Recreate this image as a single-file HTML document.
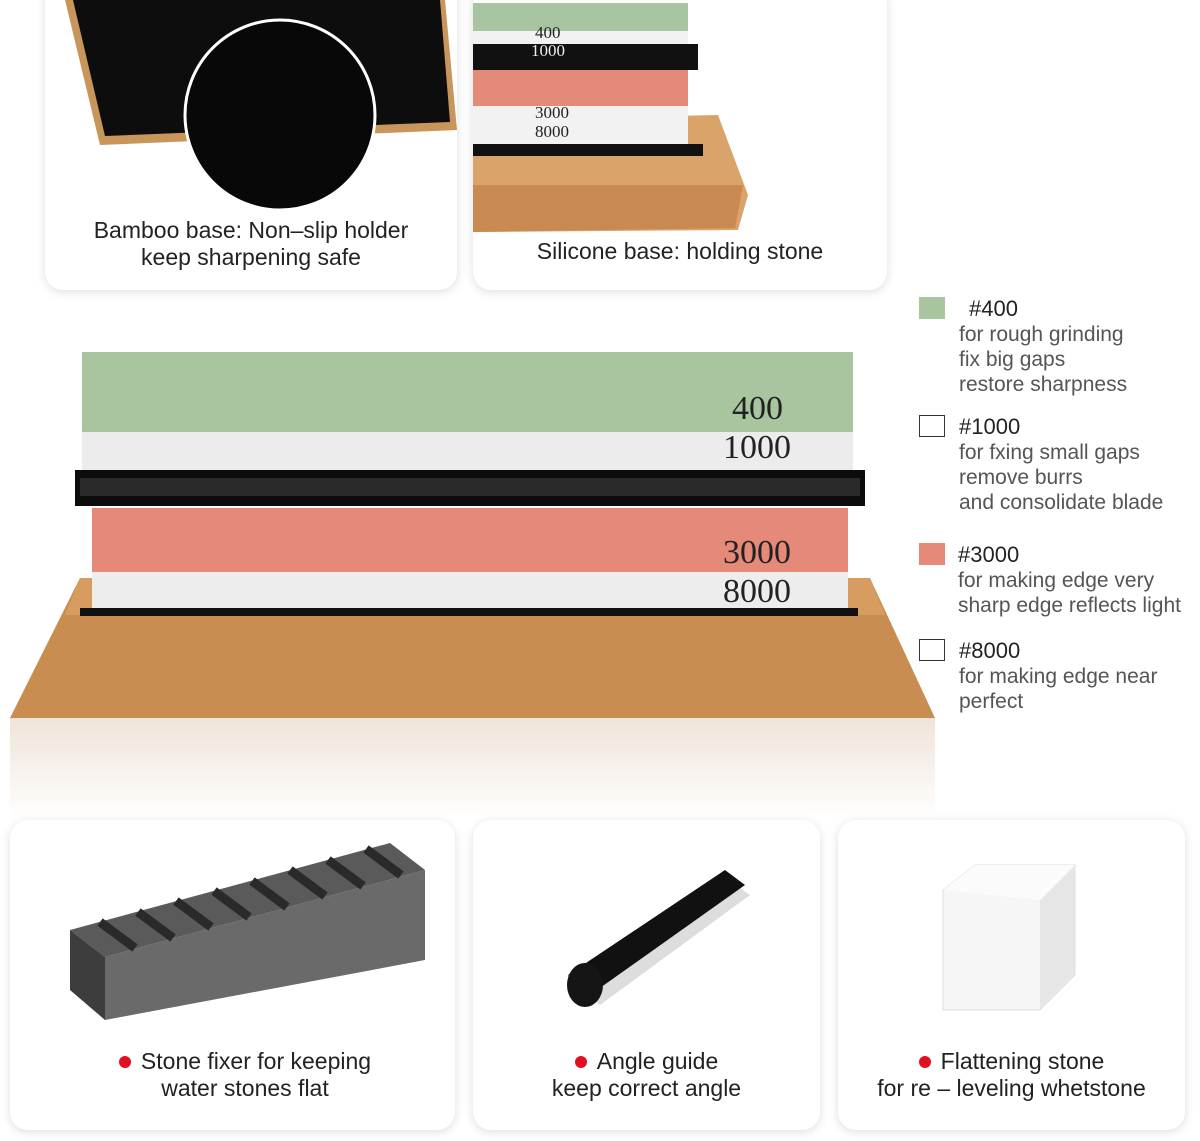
<!DOCTYPE html>
<html><head><meta charset="utf-8"><style>
*{margin:0;padding:0;box-sizing:border-box}
body{width:1200px;height:1141px;background:#fff;position:relative;overflow:hidden;font-family:"Liberation Sans",sans-serif;color:#222}
.card{position:absolute;background:#fff;border-radius:18px;box-shadow:0 2px 10px rgba(0,0,0,0.13)}
.t{position:absolute;text-align:center;font-size:23px;line-height:27px;color:#222}
.leg{position:absolute;font-size:21px;line-height:25px;color:#555}
.leg b{font-weight:normal;color:#222;font-size:22px}
.sq{position:absolute;width:26px;height:22px;border:1.5px solid #333}
.dot{display:inline-block;width:12px;height:12px;border-radius:50%;background:#e01020;margin-right:10px;vertical-align:1px}
.num{position:absolute;font-family:"Liberation Serif",serif;font-size:34px;color:#222}
</style></head><body>

<div class="card" style="left:45px;top:-20px;width:412px;height:310px"></div>
<svg style="position:absolute;left:45px;top:0" width="412" height="210">
<polygon points="20,0 400,0 412,130 55,145" fill="#c8955a"/>
<polygon points="28,0 395,0 405,122 60,136" fill="#0d0d0d"/>
<circle cx="235" cy="115" r="95" fill="#080808" stroke="#fff" stroke-width="3"/>
</svg>
<div class="t" style="left:45px;top:217px;width:412px">Bamboo base: Non–slip holder<br>keep sharpening safe</div>

<div class="card" style="left:473px;top:-20px;width:414px;height:310px"></div>
<svg style="position:absolute;left:473px;top:0" width="300" height="240">
<polygon points="0,120 245,115 275,195 265,230 0,232" fill="#d9a36a"/>
<polygon points="0,185 270,185 262,228 0,232" fill="#c88a50"/>
<rect x="0" y="3" width="215" height="28" fill="#a8c4a0"/>
<rect x="0" y="31" width="215" height="13" fill="#f2f2f2"/>
<rect x="0" y="44" width="225" height="26" fill="#111"/>
<rect x="0" y="70" width="215" height="36" fill="#e58a78"/>
<rect x="0" y="106" width="215" height="38" fill="#f2f2f2"/>
<rect x="0" y="144" width="230" height="12" fill="#111"/>
<text x="62" y="38" font-family="Liberation Serif" font-size="17" fill="#222">400</text>
<text x="58" y="56" font-family="Liberation Serif" font-size="17" fill="#eee">1000</text>
<text x="62" y="118" font-family="Liberation Serif" font-size="17" fill="#222">3000</text>
<text x="62" y="137" font-family="Liberation Serif" font-size="17" fill="#222">8000</text>
</svg>
<div class="t" style="left:473px;top:238px;width:414px">Silicone base: holding stone</div>

<div class="sq" style="left:919px;top:297px;background:#a9c59f;border-color:#a9c59f"></div>
<div class="leg" style="left:959px;top:296px"><b style="margin-left:10px">#400</b><br>for rough grinding<br>fix big gaps<br>restore sharpness</div>
<div class="sq" style="left:919px;top:415px"></div>
<div class="leg" style="left:959px;top:414px"><b>#1000</b><br>for fxing small gaps<br>remove burrs<br>and consolidate blade</div>
<div class="sq" style="left:919px;top:543px;background:#e58a78;border-color:#e58a78"></div>
<div class="leg" style="left:958px;top:542px"><b>#3000</b><br>for making edge very<br>sharp edge reflects light</div>
<div class="sq" style="left:919px;top:639px"></div>
<div class="leg" style="left:959px;top:638px"><b>#8000</b><br>for making edge near<br>perfect</div>

<svg style="position:absolute;left:0;top:340px" width="940" height="480">
<defs><linearGradient id="ref" x1="0" y1="0" x2="0" y2="1"><stop offset="0" stop-color="#efe4d8"/><stop offset="1" stop-color="#fff"/></linearGradient></defs>
<rect x="10" y="378" width="925" height="100" fill="url(#ref)"/>
<polygon points="80,238 870,238 935,378 10,378" fill="#c98d52"/>
<polygon points="80,238 870,238 885,275 65,275" fill="#d69c60"/>
<rect x="82" y="12" width="771" height="80" fill="#a9c59f"/>
<rect x="82" y="92" width="771" height="38" fill="#ececec"/>
<rect x="75" y="130" width="790" height="36" fill="#0c0c0c"/>
<rect x="80" y="138" width="780" height="18" fill="#2a2a2a"/>
<rect x="92" y="168" width="756" height="64" fill="#e58a78"/>
<rect x="92" y="232" width="756" height="40" fill="#ededed"/>
<rect x="80" y="268" width="778" height="8" fill="#111"/>
</svg>
<div class="num" style="left:732px;top:390px">400</div>
<div class="num" style="left:723px;top:429px">1000</div>
<div class="num" style="left:723px;top:534px">3000</div>
<div class="num" style="left:723px;top:573px">8000</div>

<div class="card" style="left:10px;top:820px;width:445px;height:310px"></div>
<svg style="position:absolute;left:60px;top:835px" width="380" height="200">
<polygon points="10,95 330,8 365,35 45,122" fill="#5a5a5a"/>
<polygon points="10,95 45,122 45,185 10,155" fill="#3d3d3d"/>
<polygon points="45,122 365,35 365,125 45,185" fill="#6a6a6a"/>
<g stroke="#2a2a2a" stroke-width="9">
<line x1="40" y1="87" x2="75" y2="113"/><line x1="78" y1="77" x2="113" y2="103"/>
<line x1="116" y1="66" x2="151" y2="92"/><line x1="154" y1="56" x2="189" y2="82"/>
<line x1="192" y1="46" x2="227" y2="72"/><line x1="230" y1="35" x2="265" y2="61"/>
<line x1="268" y1="25" x2="303" y2="51"/><line x1="306" y1="14" x2="341" y2="40"/>
</g>
</svg>
<div class="t" style="left:10px;top:1048px;width:470px"><span class="dot"></span>Stone fixer for keeping<br>water stones flat</div>

<div class="card" style="left:473px;top:820px;width:347px;height:310px"></div>
<svg style="position:absolute;left:560px;top:865px" width="200" height="160">
<polygon points="10,120 160,10 190,30 40,140" fill="#ddd"/>
<polygon points="8,110 165,5 185,20 30,130" fill="#111"/>
<ellipse cx="25" cy="120" rx="18" ry="22" fill="#151515"/>
</svg>
<div class="t" style="left:473px;top:1048px;width:347px"><span class="dot"></span>Angle guide<br>keep correct angle</div>

<div class="card" style="left:838px;top:820px;width:347px;height:310px"></div>
<svg style="position:absolute;left:935px;top:860px" width="150" height="160">
<polygon points="8,30 40,5 140,5 140,115 105,150 8,150" fill="#f6f6f6" stroke="#ddd"/>
<polygon points="105,40 140,5 140,115 105,150" fill="#e6e6e6"/>
<polygon points="8,30 40,5 140,5 105,40" fill="#fbfbfb"/>
</svg>
<div class="t" style="left:838px;top:1048px;width:347px"><span class="dot"></span>Flattening stone<br>for re – leveling whetstone</div>

</body></html>
